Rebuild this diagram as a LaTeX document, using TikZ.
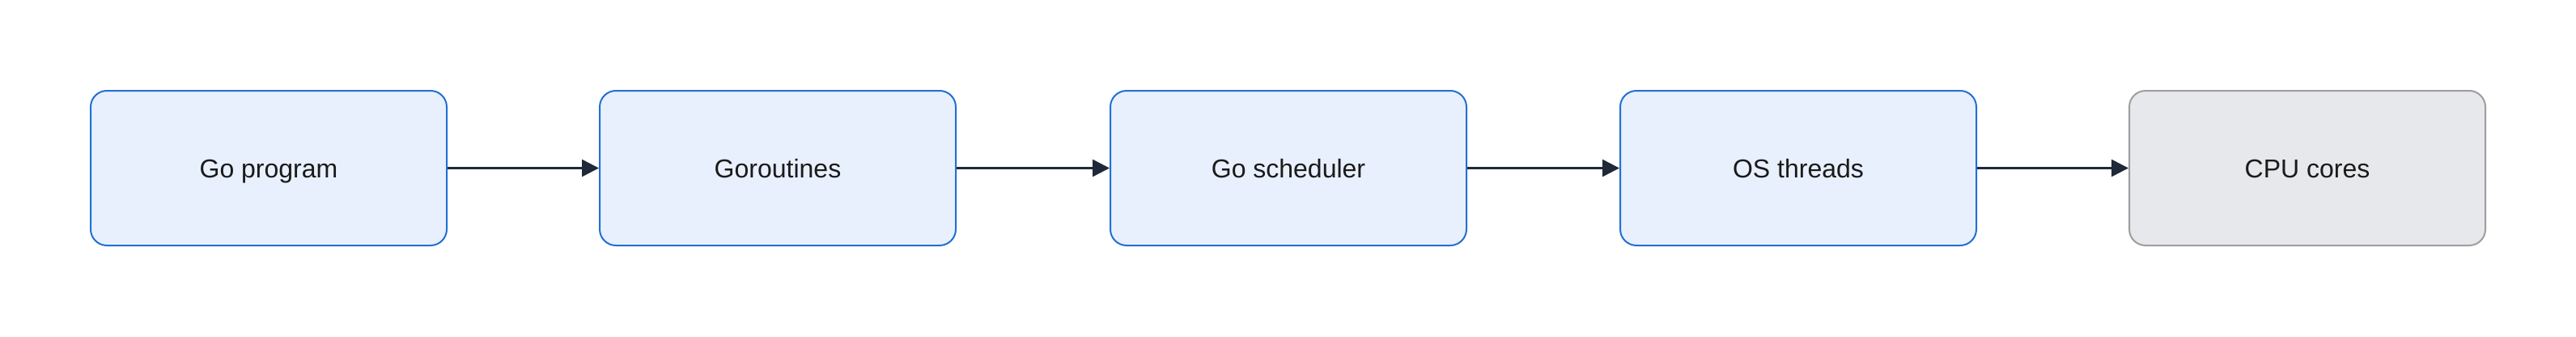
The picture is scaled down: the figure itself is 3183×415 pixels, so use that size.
\documentclass[tikz,border=0pt]{standalone}
\usepackage{fontspec}
\setmainfont{Liberation Sans}
\usetikzlibrary{arrows.meta}
\definecolor{bluefill}{HTML}{E8F0FD}
\definecolor{blueline}{HTML}{2270D4}
\definecolor{grayfill}{HTML}{E7E8EB}
\definecolor{grayline}{HTML}{9E9E9E}
\definecolor{arrowcol}{HTML}{1F2937}
\definecolor{textcol}{HTML}{1A1A1A}
\tikzset{
  box/.style={draw=blueline, fill=bluefill, line width=2pt, rounded corners=20pt,
    minimum width=440pt, minimum height=191pt, inner sep=0pt,
    text height=23pt, text depth=0pt,
    font=\fontsize{32pt}{38pt}\selectfont, text=textcol},
  graybox/.style={box, draw=grayline, fill=grayfill},
  conn/.style={draw=arrowcol, line width=2.5pt, -{Triangle[length=21pt,width=21pt]}}
}
\begin{document}
\begin{tikzpicture}[x=1pt,y=-1pt]
\useasboundingbox (0,0) rectangle (3183,415);
\node[box] (prog) at (332,207.5) {Go program};
\node[box] (gor) at (961,207.5) {Goroutines};
\node[box] (sched) at (1592,207.5) {Go scheduler};
\node[box] (os) at (2222,207.5) {OS threads};
\node[graybox] (cpu) at (2851,207.5) {CPU cores};
\draw[conn] (prog) -- (gor);
\draw[conn] (gor) -- (sched);
\draw[conn] (sched) -- (os);
\draw[conn] (os) -- (cpu);
\end{tikzpicture}
\end{document}
